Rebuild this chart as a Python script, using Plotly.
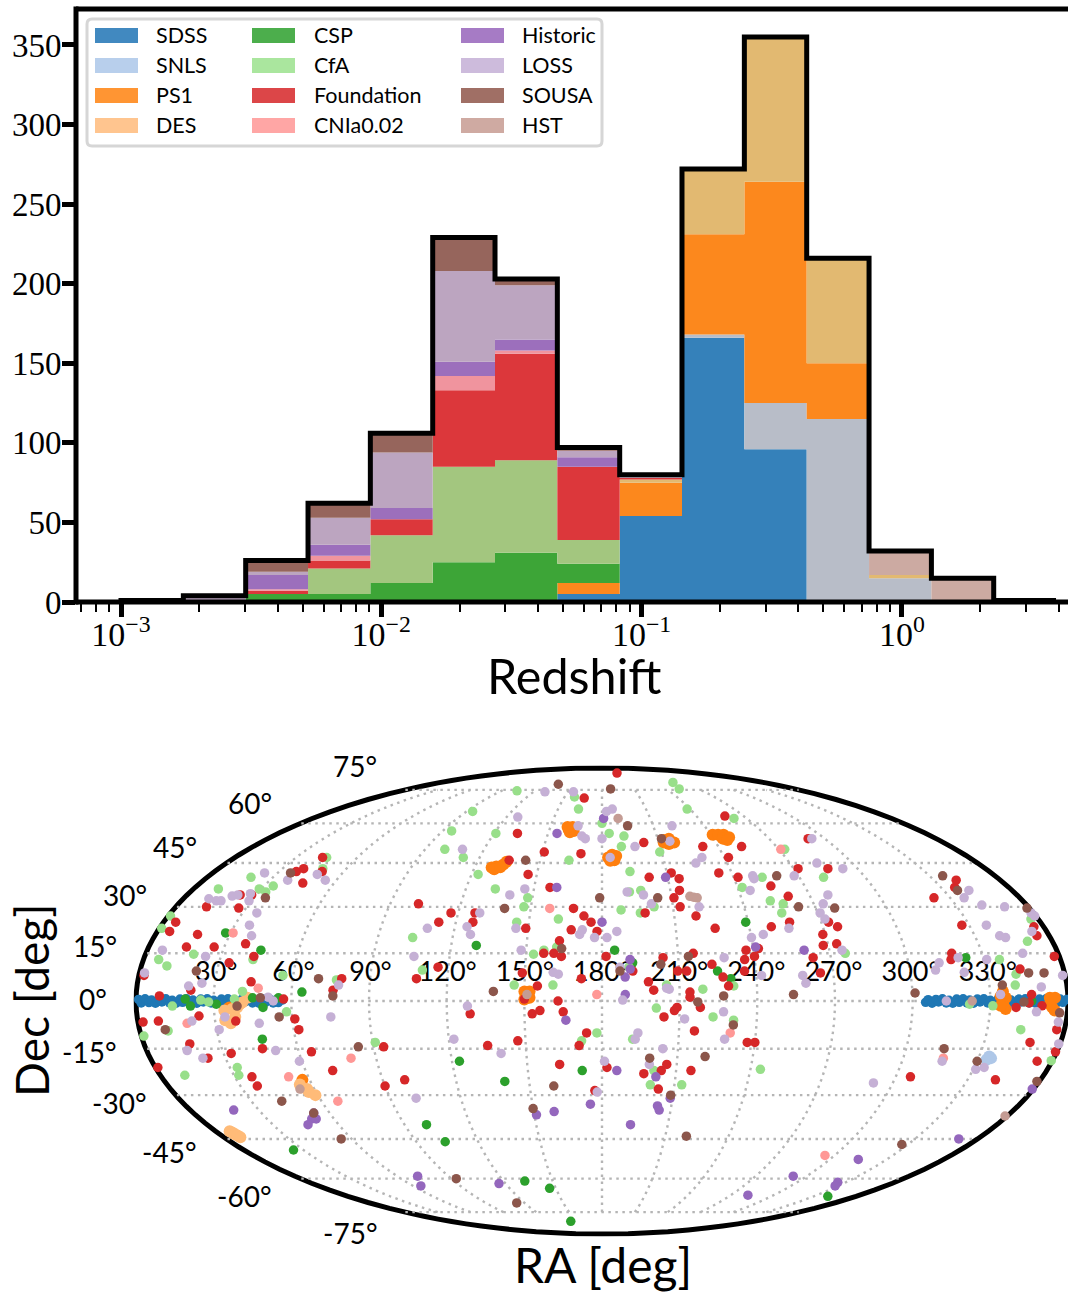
import numpy as np
import plotly.graph_objects as go

W, H = 1068, 1293
SANS = "Lato"
SERIF = "Liberation Serif"

# ---------- redshift histogram ----------
bin_edges = [0.001, 0.001736, 0.003013, 0.005231, 0.009078, 0.01576, 0.02735, 0.04747,
             0.08241, 0.1430, 0.2483, 0.4310, 0.7482, 1.299, 2.254, 3.912]
surveys = ["SDSS", "SNLS", "PS1", "DES", "CSP", "CfA", "Foundation", "CNIa0.02", "Historic", "LOSS", "SOUSA", "HST"]
#          bins:  0  1  2  3   4   5   6   7   8    9   10   11  12  13  14
counts = {
    "SDSS":       [0, 0, 0, 0, 0, 0, 0, 5, 54, 166, 96, 0, 0, 0, 0],
    "SNLS":       [0, 0, 0, 0, 0, 0, 0, 0, 0, 2, 29, 115, 15, 0, 0],
    "PS1":        [0, 0, 0, 0, 0, 0, 0, 7, 21, 63, 139, 35, 0, 0, 0],
    "DES":        [0, 0, 0, 0, 0, 0, 0, 0, 2, 41, 91, 66, 2, 0, 0],
    "CSP":        [0, 0, 5, 5, 12, 25, 31, 12, 0, 0, 0, 0, 0, 0, 0],
    "CfA":        [0, 0, 0, 16, 30, 60, 58, 15, 0, 0, 0, 0, 0, 0, 0],
    "Foundation": [0, 0, 2, 5, 10, 48, 67, 46, 1, 0, 0, 0, 0, 0, 0],
    "CNIa0.02":   [0, 0, 1, 3, 0, 9, 2, 0, 0, 0, 0, 0, 0, 0, 0],
    "Historic":   [0, 1, 9, 7, 7, 9, 7, 6, 0, 0, 0, 0, 0, 0, 0],
    "LOSS":       [1, 3, 2, 17, 35, 57, 34, 4, 1, 0, 0, 0, 0, 0, 0],
    "SOUSA":      [0, 0, 7, 9, 12, 21, 4, 2, 1, 0, 0, 0, 0, 0, 0],
    "HST":        [0, 0, 0, 0, 0, 0, 0, 0, 0, 0, 0, 0, 15, 15, 1],
}
bar_colors = {"SDSS": "#3581ba", "SNLS": "#b8bdc8", "PS1": "#fc881d", "DES": "#e2b971",
              "CSP": "#3da537", "CfA": "#a3c67f", "Foundation": "#dc373b", "CNIa0.02": "#f0949e",
              "Historic": "#9c6fbc", "LOSS": "#bca5c0", "SOUSA": "#96655c", "HST": "#ccaaa2"}
legend_colors = {"SDSS": "#4189c0", "SNLS": "#b8cfec", "PS1": "#ff9533", "DES": "#ffc58f",
                 "CSP": "#4cae4c", "CfA": "#aae69e", "Foundation": "#dc4648", "CNIa0.02": "#ffa6a5",
                 "Historic": "#a67bc5", "LOSS": "#cdbbdc", "SOUSA": "#a06f65", "HST": "#cfaaa2"}
point_colors = {"SDSS": "#1f77b4", "SNLS": "#aec7e8", "PS1": "#ff7f0e", "DES": "#ffbb78",
                "CSP": "#2ca02c", "CfA": "#98df8a", "Foundation": "#d62728", "CNIa0.02": "#ff9896",
                "Historic": "#9467bd", "LOSS": "#c5b0d5", "SOUSA": "#8c564b", "HST": "#c49c94"}
point_sizes = {"PS1": 12, "DES": 12, "SNLS": 12}

y_ticks = [0, 50, 100, 150, 200, 250, 300, 350]
x_major = [0.001, 0.01, 0.1, 1]
x_major_text = ["10<sup>−3</sup>", "10<sup>−2</sup>", "10<sup>−1</sup>", "10<sup>0</sup>"]
x_minor = [0.0007, 0.0008, 0.0009, 0.002, 0.003, 0.004, 0.005, 0.006, 0.007, 0.008, 0.009,
           0.02, 0.03, 0.04, 0.05, 0.06, 0.07, 0.08, 0.09, 0.2, 0.3, 0.4, 0.5, 0.6, 0.7, 0.8, 0.9, 2, 3, 4]

# ---------- sky positions: (RA deg, Dec deg) ----------
sdss = [(1,.5),(2,-.6),(3.5,.7),(5,-.5),(6,.3),(7.5,-.7),(9,.6),(10,-.3),(11.5,.7),(13,-.6),(14,.2),(15.5,-.7),
        (17,.6),(18,-.4),(19.5,.7),(21,-.6),(22,.3),(23.5,-.7),(25,.6),(26,-.3),(27.5,.7),(29,-.6),(30,.2),(31.5,-.7),
        (33,.6),(34,-.4),(35.5,.7),(37,-.6),(38,.3),(39.5,-.7),(41,.6),(42,-.3),(43.5,.7),(45,-.6),(46,.2),(47.5,-.7),
        (49,.6),(50,-.4),(51.5,.7),(53,-.6),(54,.3),(55,-.5),(56.5,.3),
        (305,-.4),(306,.4),(307.5,-.7),(309,.5),(310,-.3),(311.5,.7),(313,-.6),(314,.2),(315.5,-.7),(317,.6),(318,-.4),
        (319.5,.7),(321,-.6),(322,.3),(323.5,-.7),(325,.6),(326,-.3),(327.5,.7),(329,-.6),(330,.2),(331.5,-.7),(333,.6),
        (334,-.4),(335.5,.7),(337,-.6),(338,.3),(339.5,-.7),(341,.6),(342,-.3),(343.5,.7),(345,-.6),(346,.2),(347.5,-.7),
        (349,.6),(350,-.4),(351.5,.7),(353,-.6),(354,.3),(355.5,-.7),(357,.6),(358,-.4),(359.5,.5)]
snls = [(334,-17.5),(335,-18),(333.5,-18.5)]
ps1 = [(128,43.4),(130,43.8),(133,44.5),(134,45.5),(129.5,42.8),(132,43.5),
       (161,57.5),(163,58.5),(164,57),(162,56.5),(160,58.5),
       (183,47),(185,48),(187,47.5),(186,46),(184,45.8),
       (213,53.5),(216,54),(218,52.5),(215,52),(212.5,52.5),
       (241,55.5),(244,55.5),(247,55.5),(249,54.5),(245,54),(247,53.5),
       (150,3),(152,3),(151,1),(150,.5),(152,1),
       (334,1.5),(336,1),(335,-1),(336,-2.5),(334,-1.5),(335,3),
       (353,1),(355,1),(354,-2),(355,-3),(353,-1),(36,-2),(57,-25)]
des = [(34,-3),(37,-2.5),(38,-5),(36,-7),(34,-6),(39,-2),(41,-.5),(43,1),(40,-1),
       (55,-27.5),(57,-28),(57,-29),(59,-30),(55,-26.5),
       (6.5,-42.3),(7,-42.7),(7.2,-43.3),(7.5,-43.8),(7.8,-44.4)]
csp = [(28,21.5),(45,16),(130,17.5),(64,2.8),(19,.6),(21,-1.6),(31,-1),(45,1),(49,-2),(55,1),
       (185,16),(239,25),(192,12),(225,9.4),(230,7),(323,13.6),(346,0),
       (47,-12),(123,-19),(172,-22),(140,-25.5),(100,-40),(104,-46),(25,-49),(133,-61),(146,-64),(143,-80),(340,-67.5)]
cfa = [(104,74.5),(158,71.5),(164,66),(94,65),(95,57),(121,56),(100,50),(112,47),(164,46),(123,41),(133,36),(148,33),
       (147,30),(162,26),(145,25),(104,20),(153,14.7),(157,16),(162,17),(110,9.7),(146,5),(161,5),(77,6.6),(56,8),(41,3),
       (43,13),(19,14.7),(6,13),(10,11),(1,23),(1,27),(11,36),(20,40),(29,36),(33,35),(34,37),(49,43),(45,47),
       (14,-1.6),(28,-.3),(25,.3),(38,.6),(58,-3.4),
       (259,79),(252,75.5),(238,66),(262,62),(180,60),(184,56),(192,55),(190,51),(209,49),(273,50),(193,42),(253,40),
       (281,40),(242,36.5),(192,35),(197,35.5),(252,32),(257,31),(255,28),(202,30),(188,29),(196,28),(276,15),
       (357,26),(350,18.8),(336,13),(341,8.4),(340,5),(331,-1.5),(322,-1),(219,3.7),(231,4.7),(205,5),(190.5,10.6),
       (201,-2.2),(223,-5),(231,-6),(178,-10),(192,-12),(201,-22),(244,-21.6),(200,-26.6),(213,-26.6),(343,-9),(359.5,-18.8),
       (11,-9.4),(1,-11),(10,-23.5),(33,-21),(32,-23.5),(91,-13),(172,-12.5)]
foundation = [(166,71),(133,56),(151,49),(169.5,48.4),(135,46),(146,41),(157,36.5),(102,31),(117,28),(127,28),(127,25),
       (113,25),(149,23),(168,29.5),(172.5,27),(175.5,25),(167.5,22.5),(178,22),(163,19),(157,15),(161,15),(164,14),
       (149,8.8),(172,7),(155,4.7),(150,.6),(163,0),(116,10.6),(108,7),(79,7),(76,3.4),(44,6),(9,1.6),(21,3.4),(57,.6),
       (34,12),(43,14),(38,18),(26,17),(15,17),(17,21),(5,22),(5,25),(13,30),(27,29.6),(28,34),(23,34),(46,38),(38,42),
       (40,43),(43,47),(50,42),(2,8),
       (208,85),(258,63),(202,52.5),(232,51),(252,51),(242,47),(272,43),(286,43),(212,41.5),(234,41.5),(201.5,40),(215,39.5),
       (242,40),(214,35.5),(255,37),(211,33),(260.5,33.5),(213,30),(198,28),(219,27),(226,23),(257,25),(249,23.5),(273,25),
       (276,23.5),(269,21),(273.5,18),(268,17.5),(242,16.5),(237,16),(240,14),(236,13),(263,13.6),(216,15),(204,13.6),
       (223,11.5),(209.5,9.4),(213,9.4),(227,7.5),(235.5,9.4),(265,8.8),(198,6),(200,3.4),(229,4.7),(214,2.8),(214,1.2),
       (323,33),(336,36.5),(340,39),(327,24),(356,23.5),(355,20.6),(358,14),(318,15),(317,13),(343,10),(346,2),(340,-2),
       (345,-.6),(350,-1.5),(181.6,14),(192,9.4),(291,54),
       (129,-4),(153,-4),(156,-3),(165,-3.4),(174,-10),(147,-12.5),(135,-14),(171,-14),(94,-14.4),(163,-20),(99,-25),(90,-27),
       (177,-28.5),(71,-22),(65,-16),(46,-15),(33,-16.5),(23,-18),(18,-13.5),(1,-21),(2,-6.6),(8,-6.3),(24,-4.7),(38,-6.3),
       (61,-5.6),(62,-9),(37,-24),(37,-27),
       (204,-5),(208,-3),(209,-2),(218,-2),(216,-9.4),(237,-13),(240,-13),(182,-21),(197,-23),(204,-22),(206,-20),(216,-22),
       (203.5,-28),(306,-24),(341.5,-25),(354,-19),(348,-13),(357,-9),(359.5,-16)]
cnia = [(31,21.5),(47,4),(158,29.5),(178,2),(271,50),(19,-7),(80,-18),(52,-24),(67,-32),(230,-10),(295,-51),(316,-18)]
historic = [(155,56),(160,36.5),(180,25),(181,62),(209,40),(191,13),(191,10),(189,7.5),(189,2),(241,17),(260,16),
       (166,-6),(19,-35),(53,-36),(50,-38),(52,-38),(46,-40),(151,-36.6),(159,-35.5),(175,-33),(72,-59),(65,-63),(116,-62),
       (186,-22),(202,-24),(204,-33.6),(205,-35),(193,-40),(209,-31),(292,-59),(282,-67),(325,-61.5),(328,-63),(315,-52.5),
       (351,-45),(359.5,-28)]
loss = [(130,74),(155,74),(127,62.6),(166,59),(169,55),(171,54),(109,50),(146,36),(140,34),(24,41.5),(38,39),(49,41),(55,39),
       (11,32.7),(15,32),(17,32),(20,33.6),(22,34),(27,34.4),(29,32),(36,28),(36,24),(39,20.6),(129,28),(125,23.5),(127,21),
       (109,23),(145,23),(171,21),(172,22.5),(177,20),(106,14),(148,16),(161,9),(163,8.4),(78,5),(25,5.6),(20,4.7),(24,14),
       (6,16),(2,8.8),(51,1.2),(53,0),(128,-1.6),
       (183,65),(187,66),(221,59),(180,54),(197,51),(184,47),(216,53),(229,47),(225,45),(293,54),(283,45),(293,43),(249,40.5),
       (249,39.5),(268,40.5),(245,35.5),(191,35),(198,34),(201,31),(221,30),(278,34),(274,31),(271,28),(272,26),(256,23),
       (245,21),(240,20),(186,22),(182,20),(275,16),(228,13.6),(242,8),(258,8),(259,5.6),(187,10.6),(206,3.7),(205,4),(188,.3),
       (341,35.5),(336,33),(341,30.6),(350,30),(359,28),(359.5,27),(337,24),(340,20.6),(342,20),(354,22),(346,15),(331,13),
       (320,13.6),(312,12),(310,9.7),(321,9),(350,4.4),(334,2),(313,0),(359,8),(227,-3.4),
       (212,-5.6),(194,-10),(193,-12),(228,-12),(204,-15),(181,-19),(199,-20),(292,-26),(178,-29),(316,-19),(331,-21.6),(334,-21),
       (348,-3.4),(357,-6.6),(359.5,-13.5),
       (75,-5),(47,-7),(21,-6.3),(31,-9),(16,-15.6),(21,-18),(51,-15.6),(59,-19),(34,-5),(122,-12),(140,-16.5),(101,-31)]
sousa = [(134,78),(143,46),(139,29.5),(164,16.5),(179,33),(35,33),(36,41.5),(22,9.4),(70,7),(76,1.6),(138,3),(48,1),(39,-1.6),
       (188,75.5),(195,59),(212,54),(260,40.5),(204,33),(263,30),(278,29.6),(336,40.5),(336,35.5),(359,29.6),(214,14),(203,11.5),
       (187,9.4),(227,1.6),(254,2),(301,2.5),(346,8.8),(352,8.8),(335,5),(343,-.3),
       (217,-.3),(231,-7.5),(221,-17.5),(199,-18),(209,-30),(220,-44),(327,-47),(315,-15),(330,-19),(357,-3.7),(359,-25.5),
       (55,-5),(10,-9),(84,-14.4),(160,-27),(43,-32),(53,-36),(150,-34.5),(55,-45),(93,-60),(114,-70.5)]
hst = [(190,62),(218,33.5),(219.5,33.2),(221,33),(323,0),(359,-37),(151,2),(54,-28)]
sky = {"SDSS": sdss, "SNLS": snls, "PS1": ps1, "DES": des, "CSP": csp, "CfA": cfa, "Foundation": foundation,
       "CNIa0.02": cnia, "Historic": historic, "LOSS": loss, "SOUSA": sousa, "HST": hst}

ra_ticks = [30, 60, 90, 120, 150, 180, 210, 240, 270, 300, 330]
dec_ticks = [75, 60, 45, 30, 15, 0, -15, -30, -45, -60, -75]
ra_label_lat = 8.4
legend_columns = [["SDSS", "SNLS", "PS1", "DES"], ["CSP", "CfA", "Foundation", "CNIa0.02"],
                  ["Historic", "LOSS", "SOUSA", "HST"]]


def px(x):
    return x / W


def py(y):
    return 1 - y / H


fig = go.Figure()

# stacked step histogram
for name in surveys:
    v = counts[name]
    fig.add_trace(go.Scatter(x=bin_edges, y=v + [v[-1]], name=name, mode="lines", stackgroup="one",
                             line=dict(shape="hv", width=0), fillcolor=bar_colors[name], showlegend=False,
                             hoverinfo="x+y+name"))
totals = [sum(counts[n][i] for n in surveys) for i in range(len(bin_edges) - 1)]
fig.add_trace(go.Scatter(x=[bin_edges[0]] + bin_edges, y=[0] + totals + [totals[-1]], mode="lines",
                         line=dict(shape="hv", width=5, color="black"), showlegend=False, name="All"))

# sky grid (meridians stop at +-75 like the reference)
glon, glat = [], []
for ra in ra_ticks:
    lats = np.arange(-75, 75.1, 5.0)
    glon += [ra] * len(lats) + [None]
    glat += list(lats) + [None]
for dec in dec_ticks:
    lons = np.arange(0.5, 360, 5.0)
    glon += list(lons) + [359.5, None]
    glat += [dec] * (len(lons) + 1) + [None]
fig.add_trace(go.Scattergeo(lon=glon, lat=glat, mode="lines", line=dict(color="#b5b5b5", width=2.4, dash="2.5px,4.5px"),
                            showlegend=False, hoverinfo="skip"))
fig.add_trace(go.Scattergeo(lon=ra_ticks, lat=[ra_label_lat] * len(ra_ticks), mode="text",
                            text=[f"{r}°" for r in ra_ticks], textposition="middle center",
                            textfont=dict(family=SANS, size=27, color="black"), showlegend=False, hoverinfo="skip"))
for name in surveys:
    ra, dec = zip(*sky[name])
    fig.add_trace(go.Scattergeo(lon=list(ra), lat=list(dec), mode="markers", name=name, showlegend=False,
                                marker=dict(size=point_sizes.get(name, 9.5), color=point_colors[name], line=dict(width=0))))

shapes = [
    dict(type="line", xref="paper", yref="paper", x0=px(76), x1=px(76), y0=py(604.5), y1=py(6.5), line=dict(color="black", width=5)),
    dict(type="line", xref="paper", yref="paper", x0=px(76), x1=1, y0=py(602), y1=py(602), line=dict(color="black", width=5)),
    dict(type="line", xref="paper", yref="paper", x0=px(76), x1=1, y0=py(9), y1=py(9), line=dict(color="black", width=5)),
]
r = 5
x0, x1, y0, y1 = px(87), px(602), py(19), py(146)
rx, ry = r / W, r / H
shapes.append(dict(type="path", xref="paper", yref="paper", fillcolor="white", line=dict(color="#d6d6d6", width=3),
                   path=f"M{x0+rx},{y0} L{x1-rx},{y0} Q{x1},{y0} {x1},{y0-ry} L{x1},{y1+ry} Q{x1},{y1} {x1-rx},{y1} "
                        f"L{x0+rx},{y1} Q{x0},{y1} {x0},{y1+ry} L{x0},{y0-ry} Q{x0},{y0} {x0+rx},{y0} Z"))

annotations = []
swatch_x = [95, 252, 461]
label_x = [154, 312, 520]
row_y = [35.5, 65.5, 95.5, 125.5]
for c, col in enumerate(legend_columns):
    for j, name in enumerate(col):
        shapes.append(dict(type="rect", xref="paper", yref="paper", x0=px(swatch_x[c]), x1=px(swatch_x[c] + 43),
                           y0=py(row_y[j] - 7.5), y1=py(row_y[j] + 7.5), fillcolor=legend_colors[name], line=dict(width=0)))
        annotations.append(dict(xref="paper", yref="paper", x=px(label_x[c]), y=py(row_y[j] - 0.7), text=name, showarrow=False,
                                xanchor="left", yanchor="middle", font=dict(family=SANS, size=21.5, color="black")))

dec_label_right = [379, 274, 199, 149, 119, 109, 119, 149, 199, 274, 380]
dec_label_y = [766, 803, 847, 895, 946, 999, 1052, 1103, 1152, 1196, 1233]
for d, xr, yc in zip(dec_ticks, dec_label_right, dec_label_y):
    annotations.append(dict(xref="paper", yref="paper", x=px(xr), y=py(yc), text=f"{d}°", showarrow=False,
                            xanchor="right", yanchor="middle", font=dict(family=SANS, size=28, color="black")))
annotations.append(dict(xref="paper", yref="paper", x=px(31), y=py(1001), text="Dec [deg]", textangle=-90, showarrow=False,
                        xanchor="center", yanchor="middle", font=dict(family=SANS, size=46, color="black")))
annotations.append(dict(xref="paper", yref="paper", x=px(603), y=py(1264), text="RA [deg]", showarrow=False,
                        xanchor="center", yanchor="middle", font=dict(family=SANS, size=48, color="black")))
annotations.append(dict(xref="paper", yref="paper", x=px(574), y=py(675), text="Redshift", showarrow=False,
                        xanchor="center", yanchor="middle", font=dict(family=SANS, size=48.5, color="black")))

fig.update_layout(
    width=W, height=H, margin=dict(l=0, r=0, t=0, b=0, pad=0, autoexpand=False), paper_bgcolor="white", plot_bgcolor="white",
    showlegend=False, shapes=shapes, annotations=annotations,
    xaxis=dict(type="log", domain=[px(76), 1], range=[-3.1729, 0.6384], showgrid=False, zeroline=False, showline=False,
               automargin=False, tickmode="array", tickvals=x_major, ticktext=x_major_text, ticks="outside", ticklen=14,
               tickwidth=4.5, tickcolor="black", tickfont=dict(family=SERIF, size=34, color="black"), ticklabelstandoff=-12,
               minor=dict(tickmode="array", tickvals=x_minor, ticks="outside", ticklen=9, tickwidth=2, tickcolor="black", showgrid=False)),
    yaxis=dict(domain=[py(602), py(9)], range=[0, 372.6], showgrid=False, zeroline=False, showline=False,
               automargin=False, tickmode="array", tickvals=y_ticks, ticks="outside", ticklen=13, tickwidth=4.5, tickcolor="black",
               tickfont=dict(family=SERIF, size=33, color="black"), ticklabelstandoff=-6),
    geo=dict(domain=dict(x=[px(136), 1], y=[py(1234), py(768)]), projection=dict(type="mollweide", rotation=dict(lon=180)),
             showland=False, showcoastlines=False, showocean=False, showlakes=False, showrivers=False, showcountries=False,
             showframe=True, framecolor="black", framewidth=5, bgcolor="rgba(0,0,0,0)",
             lonaxis=dict(showgrid=False), lataxis=dict(showgrid=False)),
)
fig.write_html("out.html", config={"displayModeBar": False}, post_script="document.body.style.margin='0';")
